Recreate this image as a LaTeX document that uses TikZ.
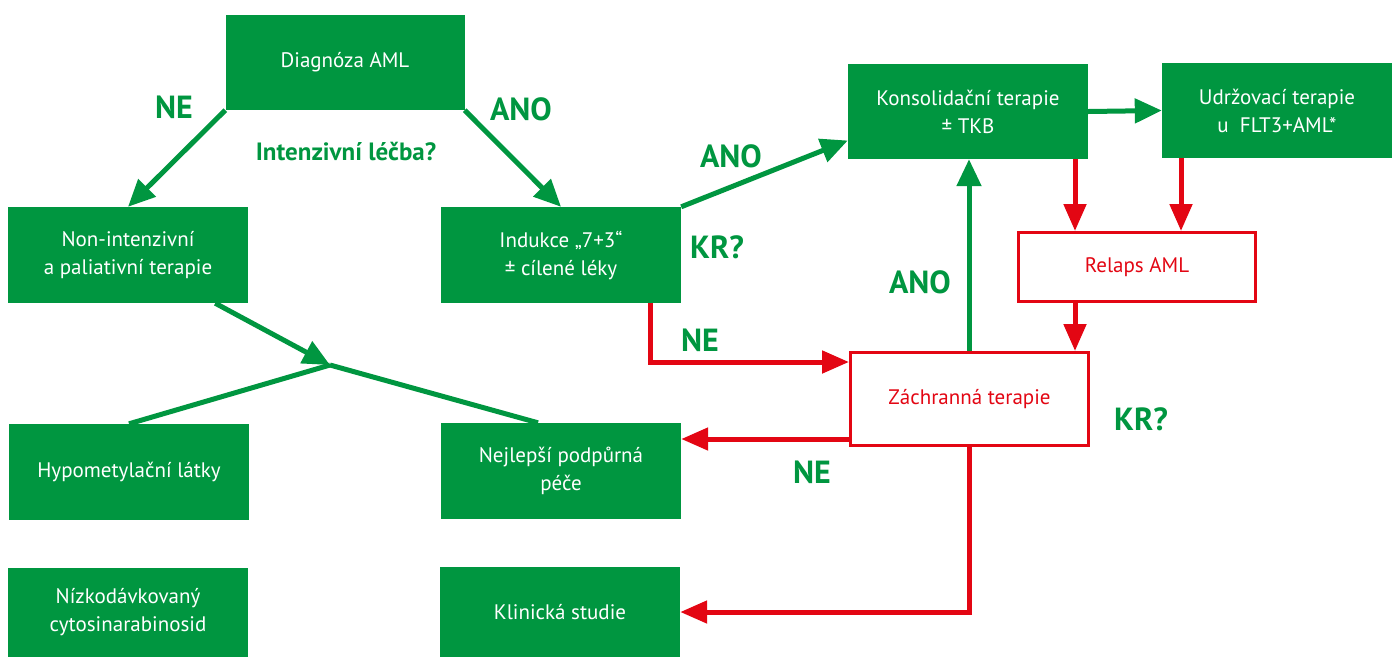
\documentclass[tikz,border=0pt]{standalone}
\usepackage{fontspec}
\setmainfont{PT Sans}
\usetikzlibrary{arrows.meta}
\definecolor{G}{RGB}{0,150,64}
\definecolor{R}{RGB}{227,6,19}
\begin{document}
\begin{tikzpicture}[x=1pt,y=-1pt,
  gbox/.style={fill=G, inner sep=0pt, align=center, text=white, minimum width=239pt, minimum height=95pt, font=\fontsize{21}{28}\selectfont},
  rbox/.style={draw=R, line width=3pt, fill=white, inner sep=0pt, align=center, text=R, minimum width=237pt, minimum height=93pt, font=\fontsize{21}{28}\selectfont},
  garr/.style={draw=G, line width=5pt, -{Triangle[length=27pt,width=24pt]}},
  rarr/.style={draw=R, line width=5pt, -{Triangle[length=27pt,width=22pt]}},
  gline/.style={draw=G, line width=5pt},
  lbl/.style={text=G, font=\fontsize{32}{33}\selectfont\bfseries, inner sep=0pt},
  slbl/.style={text=G, font=\fontsize{25}{26}\selectfont\bfseries, inner sep=0pt}]
\useasboundingbox (0,0) rectangle (1392,657);

\node[gbox] (diag) at (345,62.5) {Diagnóza AML};
\node[gbox, minimum width=240pt, minimum height=96pt] (nonint) at (128,255) {Non-intenzivní\\a paliativní terapie};
\node[gbox, minimum width=240pt, minimum height=96pt] (ind) at (561,255) {Indukce „7+3“\\± cílené léky};
\node[gbox, minimum width=240pt] (kons) at (968,111.5) {Konsolidační terapie\\± TKB};
\node[gbox, minimum width=230pt] (udr) at (1277,110.5) {Udržovací terapie\\u\ \ FLT3+AML*};
\node[rbox, minimum height=69pt] (rel) at (1137,267) {Relaps AML};
\node[rbox, minimum width=238pt] (zach) at (969.5,399) {Záchranná terapie};
\node[gbox, minimum width=240pt, minimum height=96pt] (hypo) at (129,472) {Hypometylační látky};
\node[gbox, minimum width=240pt, minimum height=96pt] (nejl) at (561,471) {Nejlepší podpůrná\\péče};
\node[gbox, minimum width=240pt, minimum height=89pt] (niz) at (128,612.5) {Nízkodávkovaný\\cytosinarabinosid};
\node[gbox, minimum width=240pt, minimum height=90pt] (klin) at (560,612) {Klinická studie};

% labels
\node[lbl] (l1) at (174,107) {NE};
\node[lbl] (l2) at (521,109) {ANO};
\node[slbl] (l3) at (346,152) {Intenzivní léčba?};
\node[lbl] (l4) at (731,156) {ANO};
\node[lbl] (l5) at (717,247) {KR?};
\node[lbl] (l6) at (920,282) {ANO};
\node[lbl] (l7) at (700,340) {NE};
\node[lbl] (l8) at (812,472) {NE};
\node[lbl] (l9) at (1141,419) {KR?};

% helper coordinates
\coordinate (m) at (330,365);
\coordinate (cx1) at (1075,0);
\coordinate (cx2) at (1181,0);
\coordinate (cx3) at (969,0);
\coordinate (cx4) at (650,0);
\coordinate (zw1) at ([yshift=37pt]zach.west);
\coordinate (zw2) at ([yshift=-40pt]zach.west);

% green connectors
\draw[garr] (diag.south west) -- (nonint.north);
\draw[garr] (diag.south east) -- (ind.north);
\draw[garr] (ind.north east) -- ([yshift=-29pt]kons.west);
\draw[garr] (kons.east) -- (udr.west);
\draw[garr] (zach.north -| cx3) -- (kons.south -| cx3);
\draw[garr] ([xshift=-33pt]nonint.south east) -- (m);
\draw[gline] (m) -- (hypo.north);
\draw[gline] (m) -- ([xshift=-23pt]nejl.north);

% red connectors
\draw[rarr] (kons.south -| cx1) -- (rel.north -| cx1);
\draw[rarr] (udr.south -| cx2) -- (rel.north -| cx2);
\draw[rarr] (rel.south -| cx1) -- (zach.north -| cx1);
\draw[rarr] (ind.south -| cx4) |- (zw1);
\draw[rarr] (zw2) -- (zw2 -| nejl.east);
\draw[rarr] (zach.south) |- (klin.east);
\end{tikzpicture}
\end{document}
